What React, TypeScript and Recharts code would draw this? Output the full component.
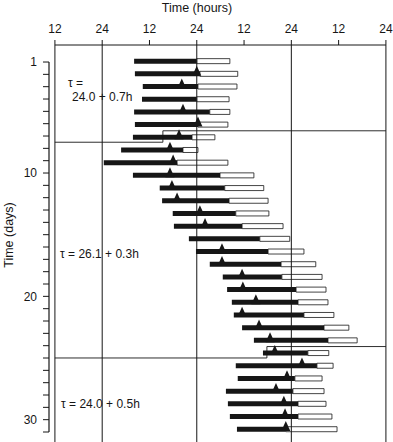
import { Bar, ComposedChart, ReferenceLine, Scatter, XAxis, YAxis } from "recharts"

// one row per day: dark (active) part, then open part, plus onset marker
const days = [1, 2, 3, 4, 5, 6, 7, 8, 9, 10, 11, 12, 13, 14, 15, 16, 17, 18, 19, 20, 21, 22, 23, 24, 25, 26, 27, 28, 29, 30]
const darkStart = [
  32.1, 32.3, 34.3, 34.1, 32.1, 32.3, 31.8, 28.8, 24.4, 31.8, 38.6, 39.2, 41.9, 42.2, 46.0, 47.8, 51.3, 54.6, 55.7, 56.9,
  57.4, 59.5, 62.5, 64.8, 57.9, 58.4, 55.4, 55.9, 56.4, 58.2,
]
const darkEnd = [
  48.0, 48.8, 48.3, 48.0, 51.3, 48.3, 46.8, 44.5, 43.0, 53.9, 55.1, 56.2, 57.9, 59.5, 64.0, 66.1, 69.4, 69.6, 73.2, 73.7,
  75.2, 80.3, 81.3, 76.2, 78.5, 72.9, 72.4, 73.7, 73.7, 70.6,
]
const openEnd = [
  56.4, 58.4, 58.2, 56.2, 56.4, 55.9, 52.6, 48.3, 55.9, 62.5, 65.0, 66.1, 66.3, 69.9, 71.6, 75.2, 78.2, 79.8, 80.8, 81.3,
  82.8, 86.6, 88.7, 81.5, 82.6, 79.8, 80.3, 80.8, 82.3, 83.6,
]
const onsetMarker = [
  null, 48.0, 44.2, null, 44.5, 48.3, 43.5, 41.2, 42.0, 41.2, 41.7, 43.0, 48.8, 50.1, null, 54.4, 54.4, 59.5, 59.7, 63.0,
  59.5, 63.8, 66.6, 67.8, 74.7, 70.9, 68.1, 70.1, 70.4, 70.6,
]

const hourTicks = [12, 24, 36, 48, 60, 72, 84, 96]
const hourTickLabels = ["12", "24", "12", "24", "12", "24", "12", "24"]
const frameHours = [12, 24, 48, 72, 96]
const dayTicks = [1, 2, 3, 4, 5, 6, 7, 8, 9, 10, 11, 12, 13, 14, 15, 16, 17, 18, 19, 20, 21, 22, 23, 24, 25, 26, 27, 28, 29, 30, 31]
const dayTickLabels = [1, 10, 20, 30]

// stepped lines that split the three phases
const breakHour = [39.4, 65.8]
const breakDayLeft = [7.4, 24.4]
const breakDayRight = [6.5, 23.5]
const periodNotes = ["τ =", "24.0 + 0.7h", "τ = 26.1 + 0.3h", "τ = 24.0 + 0.5h"]

const INK = "#161616"
const FONT = "'Liberation Sans', Arial, sans-serif"
const X_DOMAIN: [number, number] = [10.5, 97.8]
const BAR_DOMAIN: [number, number] = [-0.26, 31.02]
const TICK_DOMAIN: [number, number] = [-0.38, 31.81]

function Triangle(props: any) {
  const { cx, cy } = props
  if (cx == null || cy == null) return <g />
  return <path d={`M${cx},${cy - 8} L${cx + 4.5},${cy + 2} L${cx - 4.5},${cy + 2} Z`} fill={INK} />
}

export default function App() {
  const rows = days.map((day, i) => ({
    day,
    lead: darkStart[i],
    dark: darkEnd[i] - darkStart[i],
    open: openEnd[i] - darkEnd[i],
  }))
  const markers = days
    .map((day, i) => ({ day, hour: onsetMarker[i] }))
    .filter((m) => m.hour != null)

  const breakSegments = breakHour.flatMap((h, i) => [
    [{ x: 12, y: breakDayLeft[i] }, { x: h, y: breakDayLeft[i] }],
    [{ x: h, y: breakDayLeft[i] }, { x: h, y: breakDayRight[i] }],
    [{ x: h, y: breakDayRight[i] }, { x: 96, y: breakDayRight[i] }],
  ])

  return (
    <div style={{ position: "absolute", left: 0, top: 0, width: 393, height: 442, fontFamily: FONT, background: "#fff" }}>
      <ComposedChart
        width={393}
        height={442}
        data={rows}
        layout="vertical"
        barSize={5}
        margin={{ top: 0, right: 0, bottom: 0, left: 0 }}
      >
        <XAxis
          type="number"
          orientation="top"
          dataKey="hour"
          domain={X_DOMAIN}
          allowDataOverflow
          ticks={hourTicks}
          interval={0}
          tickFormatter={(v, i) => hourTickLabels[i]}
          axisLine={false}
          tickSize={5}
          tickMargin={7}
          height={45}
          tick={{ fill: INK, fontSize: 12 }}
          tickLine={{ stroke: INK }}
        />
        <YAxis
          yAxisId="ticks"
          type="number"
          dataKey="day"
          domain={TICK_DOMAIN}
          allowDataOverflow
          ticks={dayTicks}
          interval={0}
          tickFormatter={(v) => (dayTickLabels.includes(v) ? String(v) : "")}
          width={49}
          axisLine={false}
          tickSize={6}
          tickMargin={6}
          tick={{ fill: INK, fontSize: 12 }}
          tickLine={{ stroke: INK }}
        />
        <YAxis yAxisId="bars" type="number" dataKey="day" domain={BAR_DOMAIN} allowDataOverflow hide width={0} />

        {frameHours.map((h) => (
          <ReferenceLine key={h} yAxisId="bars" x={h} stroke={INK} strokeWidth={1} />
        ))}
        <ReferenceLine
          yAxisId="bars"
          segment={[{ x: 12, y: BAR_DOMAIN[0] }, { x: 96, y: BAR_DOMAIN[0] }]}
          stroke={INK}
          ifOverflow="visible"
        />
        <ReferenceLine
          yAxisId="ticks"
          segment={[{ x: X_DOMAIN[0], y: 1 }, { x: X_DOMAIN[0], y: 31 }]}
          stroke={INK}
          strokeWidth={1.2}
          ifOverflow="visible"
        />
        {breakSegments.map((seg, i) => (
          <ReferenceLine key={"b" + i} yAxisId="bars" segment={seg} stroke={INK} strokeWidth={0.9} ifOverflow="visible" />
        ))}

        <Bar yAxisId="bars" dataKey="lead" stackId="day" fill="none" isAnimationActive={false} />
        <Bar yAxisId="bars" dataKey="dark" stackId="day" fill={INK} isAnimationActive={false} />
        <Bar yAxisId="bars" dataKey="open" stackId="day" fill="#fff" stroke={INK} strokeWidth={0.8} isAnimationActive={false} />
        <Scatter yAxisId="bars" data={markers} shape={Triangle} isAnimationActive={false} />
      </ComposedChart>

      <svg width={393} height={442} style={{ position: "absolute", left: 0, top: 0, pointerEvents: "none" }}>
        <text x={197} y={11.5} textAnchor="middle" fontSize={12.5} fill={INK}>
          Time (hours)
        </text>
        <text transform="translate(12.5,235) rotate(-90)" textAnchor="middle" fontSize={12.5} fill={INK}>
          Time (days)
        </text>
        <text x={68} y={87} fontSize={12} fill={INK}>{periodNotes[0]}</text>
        <text x={72} y={100.5} fontSize={12} fill={INK}>{periodNotes[1]}</text>
        <text x={60} y={258} fontSize={12} fill={INK}>{periodNotes[2]}</text>
        <text x={61} y={408} fontSize={12} fill={INK}>{periodNotes[3]}</text>
      </svg>
    </div>
  )
}
